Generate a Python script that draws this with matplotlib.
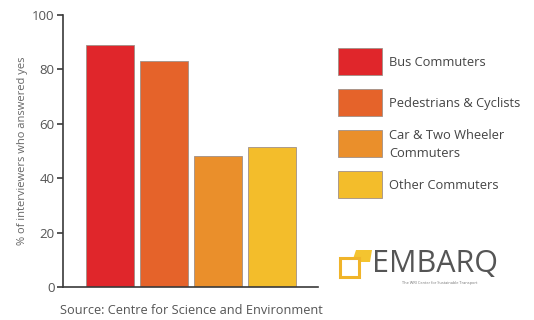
import matplotlib.pyplot as plt
import matplotlib.patches as mpatches
import numpy as np

plt.rcParams['font.family'] = ['Open Sans', 'DejaVu Sans']

categories = ['Bus Commuters', 'Pedestrians & Cyclists', 'Car & Two Wheeler\nCommuters', 'Other Commuters']
values = [89, 83, 48, 51.5]
colors = ['#e0262b', '#e5632a', '#ea8f2b', '#f3bd2b']
yticks = [0, 20, 40, 60, 80, 100]

W, H = 534, 320
fig = plt.figure(figsize=(W / 100, H / 100), dpi=100)
ax = fig.add_axes([0.118, 0.103, 0.4775, 0.85])

x = np.arange(len(values))
ax.bar(x, values, width=0.89, color=colors, edgecolor='#a09088', linewidth=0.6)

ax.set_xlim(-0.87, 3.85)
ax.set_ylim(0, 100)
ax.set_yticks(yticks)
ax.set_xticks([])
for s in ['top', 'right']:
    ax.spines[s].set_visible(False)
for s in ['left', 'bottom']:
    ax.spines[s].set_color('#3a3a3a')
    ax.spines[s].set_linewidth(1.2)
ax.tick_params(axis='y', length=4, width=1.2, color='#3a3a3a', labelsize=9.5, labelcolor='#555555', pad=2)
ax.set_ylabel('% of interviewers who answered yes', fontsize=8, color='#666666', labelpad=3)

# legend, drawn as boxes in pixel units of the figure
box_x, box_w, box_h = 338, 44, 27
top0, step = 48, 41
for i, (lab, c) in enumerate(zip(categories, colors)):
    top = top0 + i * step
    fig.patches.append(mpatches.Rectangle((box_x / W, 1 - (top + box_h) / H), box_w / W, box_h / H,
                                          transform=fig.transFigure, facecolor=c,
                                          edgecolor='#a09088', linewidth=0.6))
    fig.text((box_x + box_w + 7) / W, 1 - (top + box_h / 2 + 1) / H, lab, fontsize=9.3,
             color='#444444', va='center', ha='left', linespacing=1.45)

fig.text(0.112, 0.03, 'Source: Centre for Science and Environment', fontsize=9.2, color='#555555',
         va='center')

# EMBARQ logo
fig.patches.append(mpatches.Polygon([(352 / W, 1 - 262 / H), (356 / W, 1 - 250 / H), (372 / W, 1 - 250 / H),
                                     (370 / W, 1 - 262 / H)], closed=True, transform=fig.transFigure,
                                    facecolor='#f4c430', edgecolor='none'))
fig.patches.append(mpatches.Rectangle((340 / W, 1 - 277 / H), 19 / W, 19 / H, transform=fig.transFigure,
                                      facecolor='white', edgecolor='#f0b429', linewidth=2.2))
fig.text(372 / W, 1 - 272 / H, 'EMBARQ', fontsize=22, color='#555555', va='baseline')
fig.text(440 / W, 1 - 283 / H, 'The WRI Center for Sustainable Transport', fontsize=2.8,
         color='#777777', ha='center', va='center')

fig.savefig('out.png', dpi=100)
